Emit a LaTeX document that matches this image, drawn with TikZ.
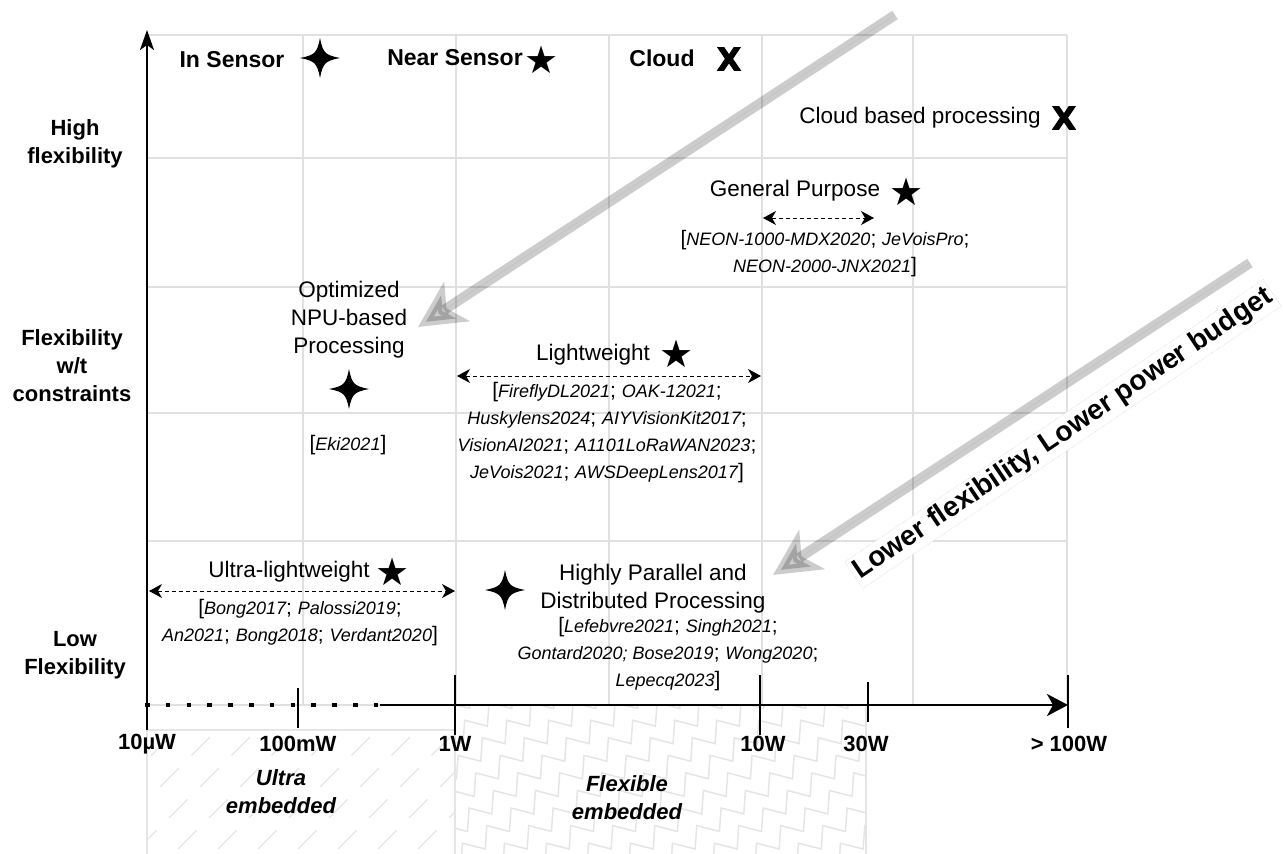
\documentclass[tikz,border=0pt]{standalone}
\usepackage{fontspec}
\setmainfont{Liberation Sans}
\newfontfamily\symfont{DejaVu Sans}
\newfontfamily\heavyfont[FakeBold=3]{DejaVu Sans Bold}
\usetikzlibrary{arrows.meta,decorations.pathmorphing}

\newcommand{\rf}[1]{{\fontsize{18}{27}\selectfont\itshape #1}}

\tikzset{
  gridline/.style={draw=black!12, line width=1.5pt},
  axisline/.style={line width=2.5pt},
  tickline/.style={line width=2.5pt},
  ticklabel/.style={font=\fontsize{22}{26}\selectfont\bfseries, inner sep=0pt},
  levellabel/.style={font=\fontsize{22}{28}\selectfont\bfseries, align=center, inner sep=0pt},
  legendlabel/.style={font=\fontsize{23}{28}\selectfont\bfseries, inner sep=0pt},
  grouplabel/.style={font=\fontsize{22.5}{28}\selectfont, align=center, inner sep=0pt},
  reflist/.style={font=\fontsize{21}{27}\selectfont, align=center, inner sep=0pt},
  zonelabel/.style={font=\fontsize{22}{28}\selectfont\bfseries\itshape, align=center, inner sep=0pt},
  starmark/.style={font=\fontsize{38}{38}\selectfont\symfont, inner sep=0pt},
  cloudmark/.style={font=\fontsize{31}{31}\selectfont\heavyfont, inner sep=0pt},
  rangearrow/.style={{Stealth[length=13pt,width=14pt,inset=4pt]}-{Stealth[length=13pt,width=14pt,inset=4pt]},
    line width=1pt, dash pattern=on 4pt off 3pt},
  trendarrow/.style={-{Stealth[length=46pt,width=46pt,inset=12pt]}, line width=10pt,
    draw=black, fill=black, opacity=0.2},
  fourstar/.pic={\fill (0,-20) .. controls (3,-5) and (5,-3) .. (20,0)
    .. controls (5,3) and (3,5) .. (0,20) .. controls (-3,5) and (-5,3) .. (-20,0)
    .. controls (-5,-3) and (-3,-5) .. cycle;}
}

\begin{document}
\begin{tikzpicture}[x=1pt,y=-1pt]
 \useasboundingbox (0,0) rectangle (1283,854);

 % grid
 \foreach \gx in {303,456,609,762,913,1067}
   \draw[gridline] (\gx,35) -- (\gx,705);
 \foreach \gy in {35,158,287,413,541,705}
   \draw[gridline] (147,\gy) -- (1067,\gy);

 % power zones below the axis
 \begin{scope}
  \clip (147,730) rectangle (455,854);
  \foreach \k in {-6,...,8}
    \draw[black!10, line width=1.2pt, dash pattern=on 26pt off 18pt] (147+\k*40,880) -- ++(300,-300);
 \end{scope}
 \draw[black!10, line width=1.2pt] (147,854) -- (147,730) -- (455,730) -- (455,854);
 \begin{scope}
  \clip (455,705) rectangle (866,854);
  \foreach \k in {-8,...,12}
    \draw[black!10, line width=1.5pt, decorate, decoration={zigzag, segment length=30pt, amplitude=9pt}]
      (455+\k*42,890) -- ++(360,-260);
 \end{scope}
 \draw[black!10, line width=1.2pt] (866,705) -- (866,854);

 % axes
 \coordinate (ybot) at (147,730);
 \coordinate (ytop) at (147,30);
 \coordinate (xdot) at (378,705);
 \coordinate (xsol) at (380,705);
 \coordinate (xend) at (1068,705);
 \draw[axisline, -{Stealth[length=20pt,width=14pt,inset=5pt]}] (ybot) -- (ytop);
 \draw[line width=4.5pt, dash pattern=on 4.5pt off 16.3pt] (145,705) -- (xdot);
 \draw[axisline, -{Stealth[length=21pt,width=22pt,inset=6pt]}] (xsol) -- (xend);
 \draw[tickline] (298,688) -- (298,728);
 \draw[tickline] (455,675) -- (455,735);
 \draw[tickline] (760,675) -- (760,735);
 \draw[tickline] (868,682) -- (868,722);
 \draw[tickline] (1068,675) -- (1068,728);

 \node (p1) at (147,744) [ticklabel] {10µW};
 \node (p2) at (298,744) [ticklabel] {100mW};
 \node (p3) at (455,744) [ticklabel] {1W};
 \node (p4) at (763,744) [ticklabel] {10W};
 \node (p5) at (866,744) [ticklabel] {30W};
 \node (p6) at (1069,744) [ticklabel] {> 100W};

 \node (ultra) at (281,792) [zonelabel] {Ultra\\embedded};
 \node (flex) at (627,798) [zonelabel] {Flexible\\embedded};

 % flexibility levels
 \node (high) at (75,144) [levellabel] {High\\flexibility};
 \node (mid) at (72,366) [levellabel] {Flexibility\\w/t\\constraints};
 \node (low) at (75,655) [levellabel] {Low\\Flexibility};

 % legend
 \node (insens) at (232,60) [legendlabel] {In Sensor};
 \pic (insensm) at (320,58) {fourstar};
 \node (nearsens) at (455,58) [legendlabel] {Near Sensor};
 \node (nearsensm) at (542,60) [starmark] {★};
 \node (cloud) at (662,58) [legendlabel] {Cloud};
 \node (cloudm) at (729,59) [cloudmark] {X};

 % trend arrows
 \coordinate (t1s) at (895,15);
 \coordinate (t1e) at (418,327);
 \coordinate (t2s) at (1250,263);
 \coordinate (t2e) at (773,575);
 \draw[trendarrow] (t1s) -- (t1e);
 \draw[trendarrow] (t2s) -- (t2e);
 \node (trend) at (1063,434) [rotate=34, fill=white, draw=black!25, densely dotted, line width=0.4pt,
   inner sep=3pt, font=\fontsize{28}{32}\selectfont\bfseries] {Lower flexibility, Lower power budget};

 % cloud
 \node (cbp) at (920,118) [grouplabel] {Cloud based processing};
 \node (cbpm) at (1064,118) [cloudmark] {X};

 % general purpose
 \node (gp) at (795,191) [grouplabel] {General Purpose};
 \node (gpm) at (907,192) [starmark] {★};
 \coordinate (gpl) at (763,218);
 \coordinate (gpr) at (874,218);
 \draw[rangearrow] (gpl) -- (gpr);
 \node (gpref) at (825,254) [reflist] {[\rf{NEON-1000-MDX2020}; \rf{JeVoisPro};\\\rf{NEON-2000-JNX2021}]};

 % NPU
 \node (npu) at (349,320) [grouplabel] {Optimized\\NPU-based\\Processing};
 \pic (npum) at (349,389) {fourstar};
 \node (npuref) at (348,445) [reflist] {[\rf{Eki2021}]};

 % lightweight
 \node (lw) at (593,355) [grouplabel] {Lightweight};
 \node (lwm) at (677,354) [starmark] {★};
 \coordinate (lwl) at (457,376);
 \coordinate (lwr) at (761,376);
 \draw[rangearrow] (lwl) -- (lwr);
 \node (lwref) at (607,433) [reflist] {[\rf{FireflyDL2021}; \rf{OAK-12021};\\\rf{Huskylens2024}; \rf{AIYVisionKit2017};\\\rf{VisionAI2021}; \rf{A1101LoRaWAN2023};\\\rf{JeVois2021}; \rf{AWSDeepLens2017}]};

 % ultra-lightweight
 \node (ulw) at (289,572) [grouplabel] {Ultra-lightweight};
 \node (ulwm) at (393,572) [starmark] {★};
 \coordinate (ulwl) at (149,591);
 \coordinate (ulwr) at (455,591);
 \draw[rangearrow] (ulwl) -- (ulwr);
 \node (ulwref) at (300,623) [reflist] {[\rf{Bong2017}; \rf{Palossi2019};\\\rf{An2021}; \rf{Bong2018}; \rf{Verdant2020}]};

 % highly parallel
 \pic (hpm) at (505,590) {fourstar};
 \node (hp) at (653,589) [grouplabel] {Highly Parallel and\\Distributed Processing};
 \node (hpref) at (668,654) [reflist] {[\rf{Lefebvre2021}; \rf{Singh2021};\\\rf{Gontard2020; Bose2019}; \rf{Wong2020};\\\rf{Lepecq2023}]};
\end{tikzpicture}
\end{document}
